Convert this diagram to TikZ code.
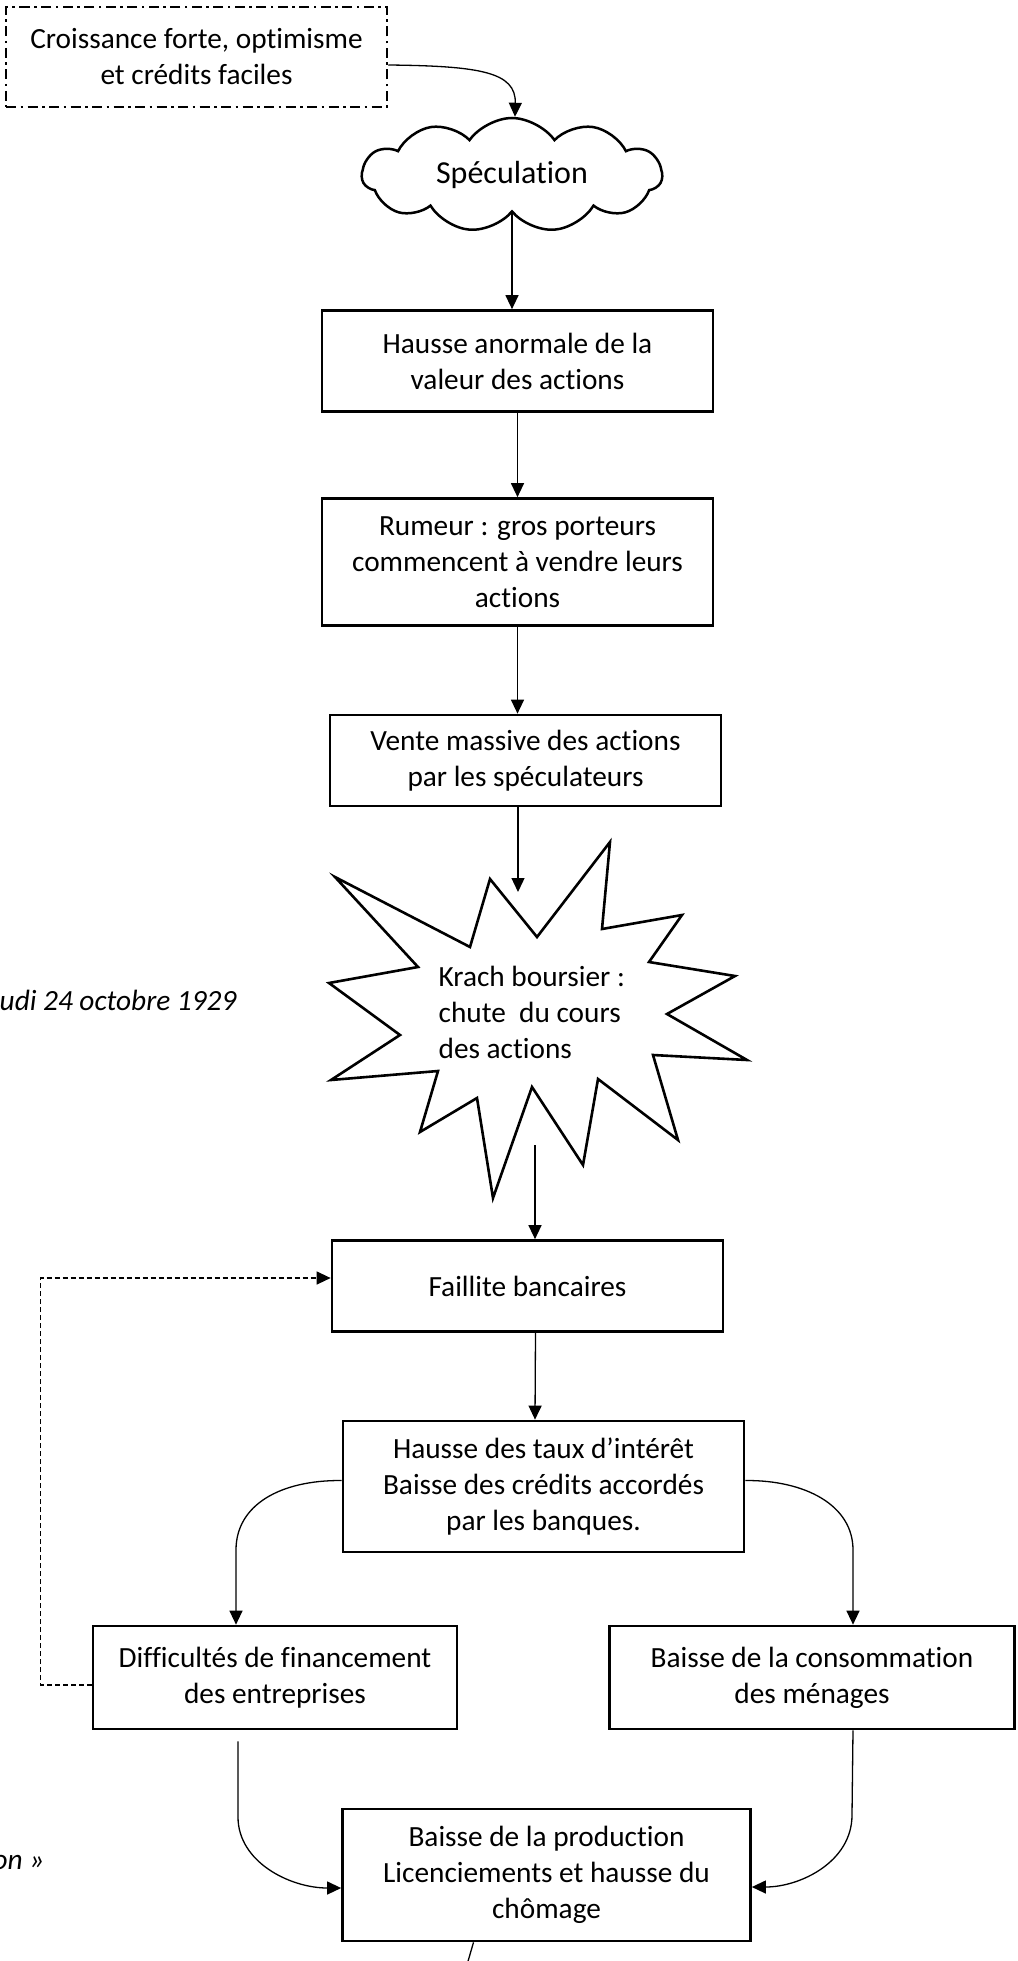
\documentclass[tikz,border=0pt]{standalone}
\usepackage{fontspec}
\setmainfont{Carlito}[Ligatures={NoCommon,NoContextual}]
\usetikzlibrary{arrows.meta,shapes.symbols}

\begin{document}
\begin{tikzpicture}[x=1pt,y=-1pt,line width=1.3pt,
  every node/.style={font=\fontsize{29.3}{36}\selectfont,inner sep=0pt,align=center},
  box/.style={draw,line width=2.7pt},
  arr/.style={-{Triangle[length=14pt,width=13pt]}},
  side/.style={font=\fontsize{29.3}{36}\selectfont\itshape}]
\useasboundingbox (0,0) rectangle (1017,1961);
% boxes
\node[box,dash pattern=on 10pt off 4.5pt on 2.5pt off 4.5pt,line width=2.5pt,minimum width=381pt,minimum height=100pt] (croiss) at (196.5,57) {Croissance forte, optimisme\\et crédits faciles};
\node[draw,cloud,cloud puffs=11,cloud puff arc=110,aspect=2.6,line width=2.5pt,minimum width=300pt,minimum height=114pt,font=\fontsize{32}{38}\selectfont] (specul) at (512,175) {Spéculation};
\node[box,minimum width=391pt,minimum height=101pt] (hausse) at (517.5,361) {Hausse anormale de la\\valeur des actions};
\node[box,minimum width=391pt,minimum height=127pt] (rumeur) at (517.5,562) {Rumeur : gros porteurs\\commencent à vendre leurs\\actions};
\node[box,minimum width=391pt,minimum height=91pt] (vente) at (525.5,760.5) {Vente massive des actions\\par les spéculateurs};
\node[box,minimum width=391pt,minimum height=91pt] (faillite) at (527.5,1286) {Faillite bancaires};
\node[box,minimum width=401pt,minimum height=131pt] (taux) at (543.5,1486.5) {Hausse des taux d’intérêt\\Baisse des crédits accordés\\par les banques.};
\node[box,minimum width=364pt,minimum height=103pt] (diff) at (275,1677.5) {Difficultés de financement\\des entreprises};
\node[box,minimum width=405pt,minimum height=103pt] (conso) at (812,1677.5) {Baisse de la consommation\\des ménages};
\node[box,minimum width=408pt,minimum height=132pt] (prod) at (546.5,1875) {Baisse de la production\\Licenciements et hausse du\\chômage};
% krach
\draw[line width=2.6pt] (335,877) -- (470,947) -- (490,879) -- (537,937) -- (610,842) -- (602,929)
  -- (682,915) -- (649,962) -- (735,976) -- (667,1014) -- (747,1060) -- (653,1055) -- (678,1140)
  -- (598,1079) -- (583,1165) -- (532,1087) -- (493,1198) -- (477,1098) -- (420,1132) -- (438,1071)
  -- (331,1080) -- (400,1035) -- (329,983) -- (418,967) -- cycle;
\node[align=left,anchor=west] (krach) at (438,1012) {Krach boursier :\\chute\ \ du cours\\des actions};
\coordinate (krachin) at (518,892);
\coordinate (krachout) at (535,1145);
% side notes
\node[side,anchor=east] (date) at (237,1000) {udi 24 octobre 1929};
\node[side,anchor=east] (note) at (45,1862) {on »};
% arrows
\draw[arr] ([yshift=-8pt]croiss.east) .. controls (480,66) and (516,72) .. ([xshift=3pt]specul.north);
\draw[arr] (specul.south) -- (specul.south |- hausse.north);
\draw[arr] (hausse) -- (rumeur);
\draw[arr] (rumeur.south) -- (rumeur.south |- vente.north);
\draw[arr] (krachin |- vente.south) -- (krachin);
\draw[arr] (krachout) -- (krachout |- faillite.north);
\draw[arr] ([xshift=8pt]faillite.south) -- ([xshift=-8.5pt]taux.north);
\draw[arr] ([yshift=6pt]taux.west) .. controls (280,1480) and (236,1505) .. (236,1550) -- ([xshift=-39pt]diff.north);
\draw[arr] ([yshift=6pt]taux.east) .. controls (805,1480) and (853,1505) .. (853,1550) -- ([xshift=41pt]conso.north);
\draw[arr] ([xshift=-37pt,yshift=-11pt]diff.south) -- (238,1817) .. controls (238,1862) and (290,1888) .. ([yshift=-13pt]prod.west);
\draw[arr] ([xshift=41pt]conso.south) -- (852,1815) .. controls (852,1862) and (800,1887) .. ([yshift=-12pt]prod.east);
\begin{scope}[dash pattern=on 5pt off 3pt]
\draw[arr] ([yshift=-7.5pt]diff.west) -- ++(-51,0) |- ([yshift=8pt]faillite.west);
\end{scope}
\coordinate (tail) at (464,1975);
\draw ([xshift=-73pt]prod.south) -- (tail);
\end{tikzpicture}
\end{document}
